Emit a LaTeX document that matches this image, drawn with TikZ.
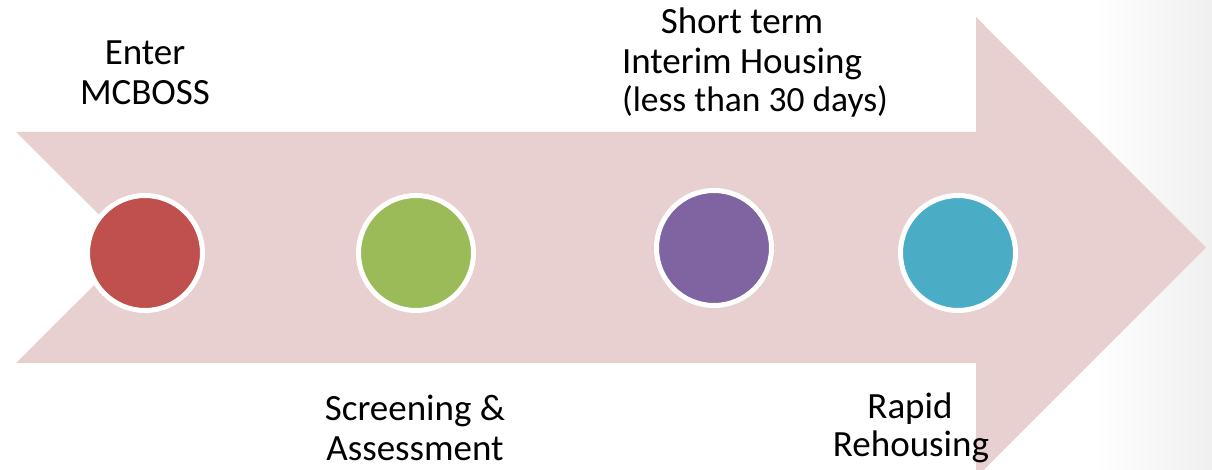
\documentclass[tikz,border=0pt]{standalone}
\usepackage{fontspec}
\setmainfont{Carlito}
\definecolor{arrowpink}{HTML}{E8D0D1}
\definecolor{cred}{HTML}{C0504D}
\definecolor{cgreen}{HTML}{9BBB59}
\definecolor{cpurple}{HTML}{8064A2}
\definecolor{cteal}{HTML}{4BACC6}
\tikzset{
  dot/.style={circle, draw=white, line width=5pt, minimum size=115pt, inner sep=0pt},
  lbl/.style={align=center, font=\fontsize{37}{40}\selectfont, inner sep=0pt, anchor=base},
  sublbl/.style={font=\fontsize{35.5}{40}\selectfont, inner sep=0pt, anchor=base}
}
\begin{document}
\begin{tikzpicture}[x=1pt,y=-1pt]
\useasboundingbox (0,0) rectangle (1212,470);
\fill[white] (0,0) rectangle (1212,470);
\shade[left color=white, right color=black!6] (1090,0) rectangle (1212,470);
\fill[arrowpink] (16,132) -- (976,132) -- (976,17) -- (1206,247.5) -- (976,477.5)
  -- (976,363) -- (16,363) -- (132,247.5) -- cycle;
\node[dot, fill=cred]    (n1) at (145,253) {};
\node[dot, fill=cgreen]  (n2) at (416,253) {};
\node[dot, fill=cpurple] (n3) at (714,248) {};
\node[dot, fill=cteal]   (n4) at (958,253) {};
\node[lbl] (t1a) at (145,65) {Enter};
\node[lbl] (t1b) at (145,105) {MCBOSS};
\node[lbl] (t2a) at (415,420) {Screening \&};
\node[lbl] (t2b) at (415,460) {Assessment};
\node[lbl] (t3a) at (742,34) {Short term};
\node[lbl] (t3b) at (742,74) {Interim Housing};
\node[sublbl] (t3c) at (755,112) {(less than 30 days)};
\node[lbl] (t4a) at (910,418) {Rapid};
\node[lbl] (t4b) at (911,456) {Rehousing};
\end{tikzpicture}
\end{document}
